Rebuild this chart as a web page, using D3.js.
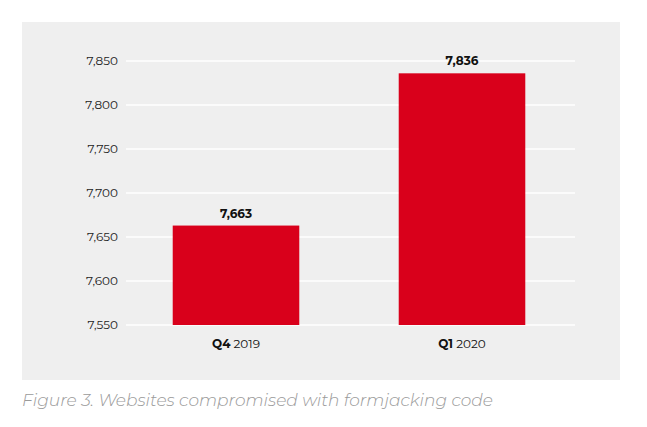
<!DOCTYPE html>
<html><head><meta charset="utf-8">
<script src="https://cdn.jsdelivr.net/npm/d3@7"></script>
<style>body{margin:0;background:#fff;font-family:"Montserrat","Open Sans",sans-serif;}</style>
</head><body><div id="chart"></div>
<script>
var quarters = ["Q4", "Q1"],
    years = ["2019", "2020"],
    values = [7663, 7836],
    ticks = [7550, 7600, 7650, 7700, 7750, 7800, 7850];

var width = 647, height = 427;
var svg = d3.select("#chart").append("svg").attr("width", width).attr("height", height);

svg.append("rect").attr("x", 22).attr("y", 22).attr("width", 598).attr("height", 358).attr("fill", "#efefef");

var y = d3.scaleLinear().domain([7550, 7850]).range([325, 61]);
var x = d3.scaleBand().domain(d3.range(values.length)).range([123, 575]).paddingInner(0.44).paddingOuter(0.22);

svg.selectAll(".grid").data(ticks).enter().append("line")
    .attr("x1", 126).attr("x2", 575)
    .attr("y1", function(d) { return y(d); }).attr("y2", function(d) { return y(d); })
    .attr("stroke", "#fff").attr("stroke-width", 1.5);

svg.selectAll(".tick").data(ticks).enter().append("text")
    .attr("x", 118).attr("y", function(d) { return y(d) + 4; })
    .attr("text-anchor", "end").attr("font-size", 12).attr("fill", "#222")
    .text(d3.format(","));

svg.selectAll(".bar").data(values).enter().append("rect")
    .attr("x", function(d, i) { return x(i); }).attr("width", x.bandwidth())
    .attr("y", function(d) { return y(d); }).attr("height", function(d) { return y(7550) - y(d); })
    .attr("fill", "#d9001b");

svg.selectAll(".val").data(values).enter().append("text")
    .attr("x", function(d, i) { return x(i) + x.bandwidth() / 2; })
    .attr("y", function(d) { return y(d) - 8; })
    .attr("text-anchor", "middle").attr("font-size", 12).attr("font-weight", "bold").attr("fill", "#111")
    .text(d3.format(","));

var cat = svg.selectAll(".cat").data(values).enter().append("text")
    .attr("x", function(d, i) { return x(i) + x.bandwidth() / 2; })
    .attr("y", 348).attr("text-anchor", "middle").attr("font-size", 12).attr("fill", "#111");
cat.append("tspan").attr("font-weight", "bold").text(function(d, i) { return quarters[i]; });
cat.append("tspan").text(function(d, i) { return " " + years[i]; });

svg.append("text").attr("x", 22).attr("y", 406)
    .attr("font-size", 17).attr("font-style", "italic").attr("fill", "#9a9a9a").attr("font-weight", 300)
    .text("Figure 3. Websites compromised with formjacking code");
</script></body></html>
